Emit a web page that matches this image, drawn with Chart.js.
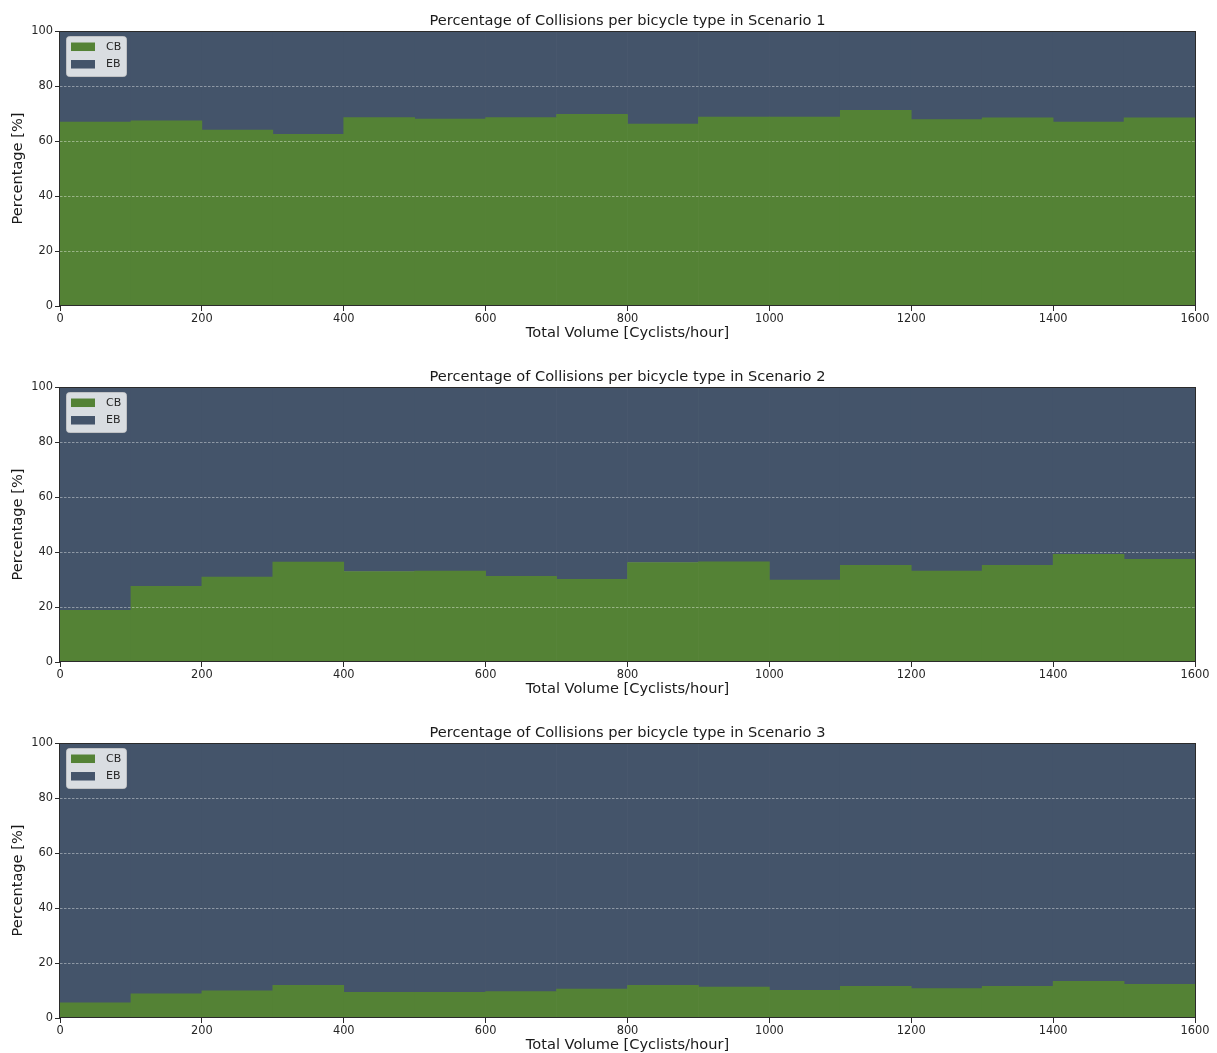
<!DOCTYPE html>
<html>
<head>
<meta charset="utf-8">
<script src="https://cdn.jsdelivr.net/npm/chart.js@4/dist/chart.umd.min.js"></script>
<style>
  html, body { margin: 0; padding: 0; background: #ffffff; overflow: hidden; }
  .panel { position: absolute; left: 0; width: 1217px; height: 341px; }
</style>
</head>
<body>
<div class="panel" style="top:0px"><canvas id="c1"></canvas></div>
<div class="panel" style="top:356px"><canvas id="c2"></canvas></div>
<div class="panel" style="top:712px"><canvas id="c3"></canvas></div>
<script>
// Bin centres of the 100 cyclists/hour volume classes (0-1600)
const volumeBins = [50, 150, 250, 350, 450, 550, 650, 750, 850, 950, 1050, 1150, 1250, 1350, 1450, 1550];
const xTicks = [0, 200, 400, 600, 800, 1000, 1200, 1400, 1600];
const yTicks = [0, 20, 40, 60, 80, 100];

// Share of collisions [%] by conventional bicycles (CB) and e-bikes (EB)
const cbScenario1 = [66.9, 67.3, 64.0, 62.4, 68.5, 68.0, 68.5, 69.7, 66.2, 68.7, 68.7, 71.2, 67.8, 68.4, 66.9, 68.4];
const ebScenario1 = [33.1, 32.7, 36.0, 37.6, 31.5, 32.0, 31.5, 30.3, 33.8, 31.3, 31.3, 28.8, 32.2, 31.6, 33.1, 31.6];
const cbScenario2 = [18.8, 27.5, 30.9, 36.3, 32.9, 33.1, 31.2, 30.1, 36.2, 36.4, 29.8, 35.2, 33.1, 35.2, 39.2, 37.3];
const ebScenario2 = [81.2, 72.5, 69.1, 63.7, 67.1, 66.9, 68.8, 69.9, 63.8, 63.6, 70.2, 64.8, 66.9, 64.8, 60.8, 62.7];
const cbScenario3 = [5.5, 8.8, 9.9, 11.9, 9.3, 9.3, 9.6, 10.5, 11.9, 11.2, 10.1, 11.5, 10.7, 11.5, 13.3, 12.2];
const ebScenario3 = [94.5, 91.2, 90.1, 88.1, 90.7, 90.7, 90.4, 89.5, 88.1, 88.8, 89.9, 88.5, 89.3, 88.5, 86.7, 87.8];

const seriesNames = ['CB', 'EB'];
const COLOR_CB = '#548235';
const COLOR_EB = '#44546A';
const FONT = "'DejaVu Sans', sans-serif";
const TITLE_SIZE = 14.6;
const TICK_SIZE = 11.4;

// Axes frame drawn on all four sides, on top of the bars
const framePlugin = {
  id: 'frame',
  afterDatasetsDraw(chart) {
    const a = chart.chartArea, ctx = chart.ctx;
    ctx.save();
    ctx.strokeStyle = '#2b2b2b';
    ctx.lineWidth = 1;
    ctx.strokeRect(Math.round(a.left) - 0.5, Math.round(a.top) + 0.5,
                   Math.round(a.right - a.left) + 1, Math.round(a.bottom - a.top) - 1);
    ctx.restore();
  }
};

// Legend box placed in the upper-left corner of the plot area
const innerLegend = {
  id: 'innerLegend',
  afterDraw(chart) {
    const a = chart.chartArea, ctx = chart.ctx;
    const x = a.left + 6.5, y = a.top + 5.5, w = 60, h = 40, r = 3;
    ctx.save();
    ctx.beginPath();
    ctx.moveTo(x + r, y);
    ctx.lineTo(x + w - r, y);
    ctx.quadraticCurveTo(x + w, y, x + w, y + r);
    ctx.lineTo(x + w, y + h - r);
    ctx.quadraticCurveTo(x + w, y + h, x + w - r, y + h);
    ctx.lineTo(x + r, y + h);
    ctx.quadraticCurveTo(x, y + h, x, y + h - r);
    ctx.lineTo(x, y + r);
    ctx.quadraticCurveTo(x, y, x + r, y);
    ctx.closePath();
    ctx.fillStyle = 'rgba(255,255,255,0.8)';
    ctx.fill();
    ctx.strokeStyle = 'rgba(204,204,204,0.8)';
    ctx.lineWidth = 1;
    ctx.stroke();
    ctx.font = '11px ' + FONT;
    ctx.textBaseline = 'middle';
    ctx.textAlign = 'left';
    chart.data.datasets.forEach((ds, i) => {
      const sy = a.top + 11.5 + i * 17.5;
      ctx.fillStyle = ds.backgroundColor;
      ctx.fillRect(a.left + 11, sy, 24, 8.5);
      ctx.fillStyle = '#262626';
      ctx.fillText(ds.label, a.left + 46, sy + 4.5);
    });
    ctx.restore();
  }
};

function makeChart(id, scenario, cb, eb) {
  new Chart(document.getElementById(id), {
    type: 'bar',
    data: {
      datasets: [
        { label: seriesNames[0], data: volumeBins.map((v, i) => ({ x: v, y: cb[i] })), backgroundColor: COLOR_CB, borderWidth: 0 },
        { label: seriesNames[1], data: volumeBins.map((v, i) => ({ x: v, y: eb[i] })), backgroundColor: COLOR_EB, borderWidth: 0 }
      ]
    },
    options: {
      responsive: true,
      maintainAspectRatio: false,
      animation: false,
      devicePixelRatio: 1,
      layout: { padding: { left: 0, right: 22, top: 0, bottom: 0 } },
      datasets: { bar: { barPercentage: 1, categoryPercentage: 1 } },
      plugins: {
        legend: { display: false },
        tooltip: { enabled: false },
        title: {
          display: true,
          fullSize: false,
          text: 'Percentage of Collisions per bicycle type in Scenario ' + scenario,
          color: '#1a1a1a',
          font: { family: FONT, size: TITLE_SIZE, weight: 'normal', lineHeight: 1.2 },
          padding: { top: 12, bottom: 1.5 }
        }
      },
      scales: {
        x: {
          type: 'linear',
          stacked: true,
          offset: false,
          min: 0, max: 1600,
          afterBuildTicks: s => { s.ticks = xTicks.map(v => ({ value: v })); },
          afterFit: s => { s.height = 35; },
          ticks: {
            color: '#262626', font: { family: FONT, size: TICK_SIZE }, padding: 1,
            maxRotation: 0, autoSkip: false, callback: v => String(v)
          },
          grid: { display: true, offset: false, drawOnChartArea: false, drawTicks: true, tickLength: 5, tickColor: '#2b2b2b', tickWidth: 1 },
          border: { display: false },
          title: {
            display: true, text: 'Total Volume [Cyclists/hour]', color: '#1a1a1a',
            font: { family: FONT, size: TITLE_SIZE, lineHeight: 1.1 }, padding: { top: 0, bottom: 0 }
          }
        },
        y: {
          stacked: true,
          min: 0, max: 100,
          afterBuildTicks: s => { s.ticks = yTicks.map(v => ({ value: v })); },
          afterFit: s => { s.width = 60; },
          ticks: { color: '#262626', font: { family: FONT, size: TICK_SIZE }, padding: 2, callback: v => String(v) },
          grid: {
            z: 1,
            color: c => (c.tick && (c.tick.value === 0 || c.tick.value === 100)) ? 'rgba(0,0,0,0)' : 'rgba(255,255,255,0.5)',
            lineWidth: 0.8,
            drawTicks: true, tickLength: 5, tickColor: '#2b2b2b', tickWidth: 1, tickBorderDash: []
          },
          border: { display: false, dash: [2.5, 1.5] },
          title: {
            display: true, text: 'Percentage [%]', color: '#1a1a1a',
            font: { family: FONT, size: TITLE_SIZE, lineHeight: 1.2 }, padding: { top: 9, bottom: 0 }
          }
        }
      }
    },
    plugins: [framePlugin, innerLegend]
  });
}

makeChart('c1', 1, cbScenario1, ebScenario1);
makeChart('c2', 2, cbScenario2, ebScenario2);
makeChart('c3', 3, cbScenario3, ebScenario3);
</script>
</body>
</html>
